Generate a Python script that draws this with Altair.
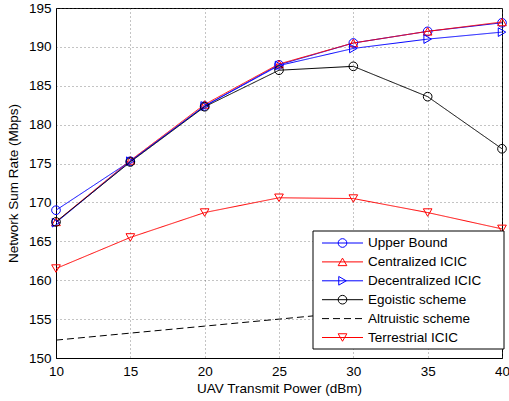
import altair as alt
import pandas as pd

# ---- data ----
power = [10, 15, 20, 25, 30, 35, 40]
series_names = ["Upper Bound", "Centralized ICIC", "Decentralized ICIC",
                "Egoistic scheme", "Altruistic scheme", "Terrestrial ICIC"]
upper_bound = [169.0, 175.3, 182.4, 187.7, 190.5, 192.0, 193.1]
centralized = [167.5, 175.4, 182.6, 187.8, 190.5, 192.0, 193.2]
decentralized = [167.4, 175.3, 182.4, 187.6, 189.8, 191.0, 191.9]
egoistic = [167.5, 175.2, 182.3, 187.0, 187.5, 183.6, 176.9]
altruistic = [152.3, 153.2, 154.1, 155.0, 155.9, 156.8, 157.7]
terrestrial = [161.5, 165.5, 168.7, 170.6, 170.5, 168.7, 166.6]
all_values = [upper_bound, centralized, decentralized, egoistic, altruistic, terrestrial]

x_ticks = [10, 15, 20, 25, 30, 35, 40]
y_ticks = [150, 155, 160, 165, 170, 175, 180, 185, 190, 195]

# ---- styles ----
colors = ["#0000FF", "#FF0000", "#0000FF", "#000000", "#000000", "#FF0000"]
shapes = ["circle", "triangle-up", "triangle-right", "circle", "circle", "triangle-down"]
has_marker = [True, True, True, True, False, True]
dashes = [[1, 0], [1, 0], [1, 0], [1, 0], [7, 4], [1, 0]]
FONT = "Liberation Sans"
FS = 13.5

W, H = 446, 350
L, T = 56, 8

xscale = alt.Scale(domain=[10, 40], nice=False)
yscale = alt.Scale(domain=[150, 195], nice=False)
xax = alt.Axis(values=x_ticks, title="UAV Transmit Power (dBm)", grid=True, labelFlush=False)

layers = []
first = True
for i, name in enumerate(series_names):
    df = pd.DataFrame({"power": power, "rate": all_values[i], "series": name})
    yax_line = alt.Axis(values=y_ticks, title="Network Sum Rate (Mbps)", grid=True,
                        labelFlush=False) if first else None
    first = False
    xenc = alt.X("power:Q", scale=xscale, axis=xax)
    line = alt.Chart(df).mark_line(color=colors[i], strokeWidth=1, strokeDash=dashes[i]).encode(
        x=xenc, y=alt.Y("rate:Q", scale=yscale, axis=yax_line))
    layers.append(line)
    if has_marker[i]:
        pts = alt.Chart(df).mark_point(shape=shapes[i], color=colors[i], filled=False,
                                       size=75, strokeWidth=1, opacity=1).encode(
            x=xenc, y=alt.Y("rate:Q", scale=yscale, axis=None))
        layers.append(pts)

# ---- legend (drawn manually, MATLAB style) ----
box_x0, box_x1, box_y0, box_y1 = 313 - L, 504 - L, 231 - T, 349 - T
row_first, row_last = 243 - T, 337.5 - T
seg_x0, seg_x1, mark_x, text_x = 322 - L, 363 - L, 342.5 - L, 368 - L

box = alt.Chart(pd.DataFrame({"a": [0]})).mark_rect(
    fill="white", stroke="black", strokeWidth=1
).encode(x=alt.value(box_x0), x2=alt.value(box_x1),
         y=alt.value(box_y0), y2=alt.value(box_y1))
layers.append(box)

rowscale = alt.Scale(domain=[0, len(series_names) - 1], range=[row_first, row_last])
for i, name in enumerate(series_names):
    ldf = pd.DataFrame({"row": [i], "series": [name]})
    lb = alt.Chart(ldf).encode(y=alt.Y("row:Q", scale=rowscale, axis=None))
    layers.append(lb.mark_rule(color=colors[i], strokeWidth=1, strokeDash=dashes[i]).encode(
        x=alt.value(seg_x0), x2=alt.value(seg_x1)))
    if has_marker[i]:
        layers.append(lb.mark_point(shape=shapes[i], color=colors[i], filled=False,
                                    size=75, strokeWidth=1, opacity=1).encode(x=alt.value(mark_x)))
    layers.append(lb.mark_text(align="left", baseline="middle", font=FONT, fontSize=FS,
                               color="black").encode(x=alt.value(text_x), text="series:N"))

chart = alt.layer(*layers).resolve_scale(y="independent").properties(
    width=W, height=H,
    autosize="none",
    padding={"left": L, "top": T, "right": 509 - L - W, "bottom": 401 - T - H},
).configure_view(
    stroke="black", strokeWidth=1
).configure_axis(
    labelFont=FONT, titleFont=FONT, labelFontSize=FS, titleFontSize=FS,
    labelColor="black", titleColor="black", titleFontWeight="normal",
    domainColor="black", domainWidth=1, ticks=False,
    gridColor="#555555", gridDash=[1, 3], gridWidth=1, gridOpacity=0.7,
).configure_axisX(
    labelPadding=6, titlePadding=4
).configure_axisY(
    labelPadding=5, titlePadding=8
)

chart.save("out.html", embed_options={"renderer": "svg", "actions": False})
